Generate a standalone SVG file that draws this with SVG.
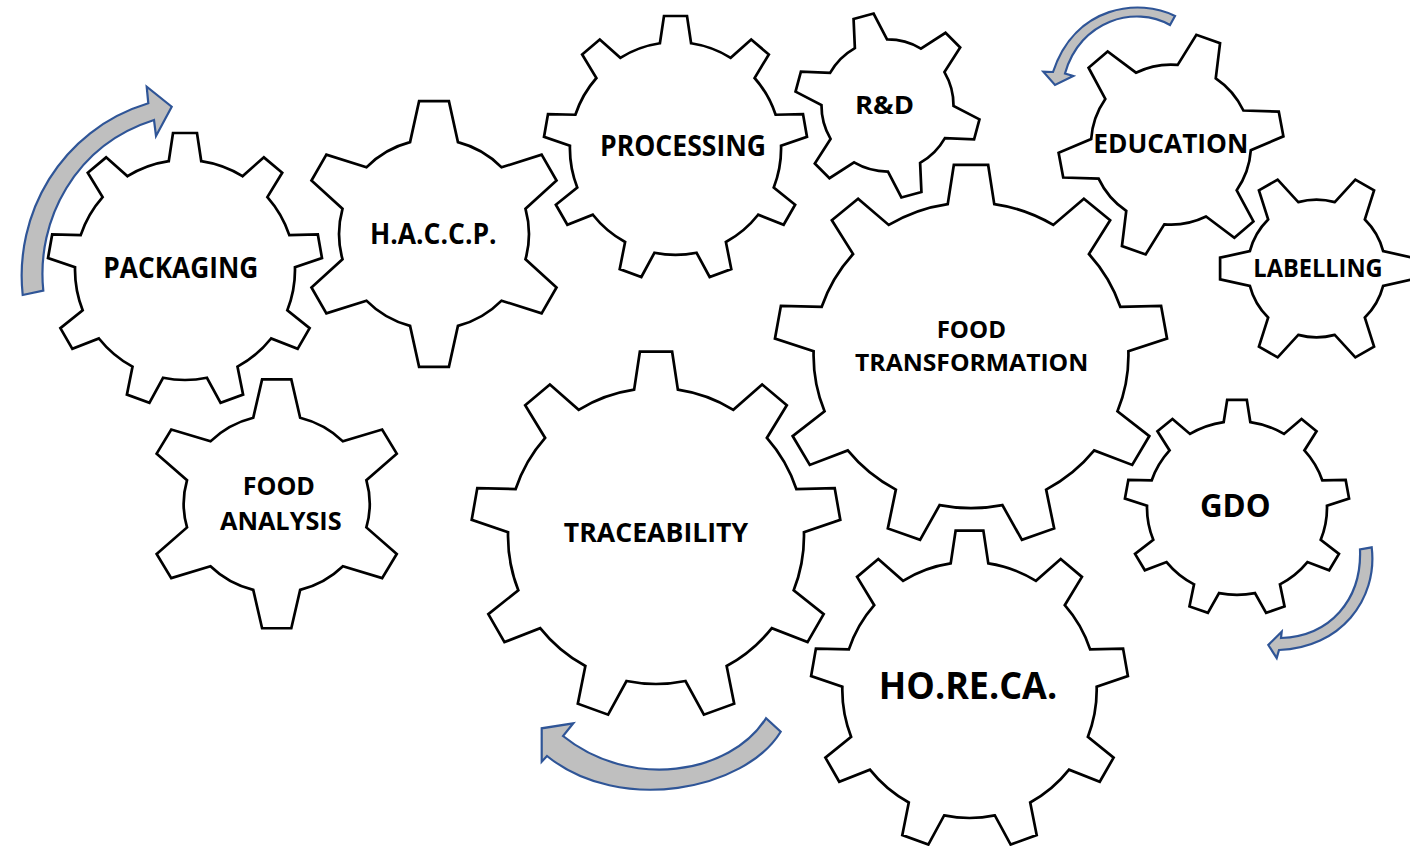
<svg xmlns="http://www.w3.org/2000/svg" xmlns:xlink="http://www.w3.org/1999/xlink" width="1410" height="846" viewBox="0 0 1410 846">
<style>
.t{font-family:"Open Sans","Liberation Sans",sans-serif;font-weight:700;fill:#000;text-anchor:middle}
.arrow{fill:#BFBFBF;stroke:#2F5597;stroke-width:2.2;stroke-linejoin:miter}
</style>
<defs>
<path id="g9" fill="#fff" stroke="#000" stroke-width="2.7" stroke-linejoin="miter" vector-effect="non-scaling-stroke" d="M -11.82,-79.12 L -8.72,-99.62 L 8.72,-99.62 L 11.82,-79.12 A 80 80 0 0 1 41.80,-68.21 L 57.36,-81.92 L 70.71,-70.71 L 59.92,-53.01 A 80 80 0 0 1 75.86,-25.38 L 96.59,-25.88 L 99.62,-8.72 L 79.97,-2.09 A 80 80 0 0 1 74.43,29.32 L 90.63,42.26 L 81.92,57.36 L 62.61,49.80 A 80 80 0 0 1 38.18,70.30 L 42.26,90.63 L 25.88,96.59 L 15.95,78.39 A 80 80 0 0 1 -15.95,78.39 L -25.88,96.59 L -42.26,90.63 L -38.18,70.30 A 80 80 0 0 1 -62.61,49.80 L -81.92,57.36 L -90.63,42.26 L -74.43,29.32 A 80 80 0 0 1 -79.97,-2.09 L -99.62,-8.72 L -96.59,-25.88 L -75.86,-25.38 A 80 80 0 0 1 -59.92,-53.01 L -70.71,-70.71 L -57.36,-81.92 L -41.80,-68.21 A 80 80 0 0 1 -11.82,-79.12 Z"/>
<path id="g6" fill="#fff" stroke="#000" stroke-width="2.7" stroke-linejoin="miter" vector-effect="non-scaling-stroke" d="M -17.9,-68.71 L -11.15,-99.38 L 11.15,-99.38 L 17.9,-68.71 A 71 71 0 0 1 50.55,-49.86 L 80.49,-59.34 L 91.64,-40.03 L 68.45,-18.86 A 71 71 0 0 1 68.45,18.86 L 91.64,40.03 L 80.49,59.34 L 50.55,49.86 A 71 71 0 0 1 17.9,68.71 L 11.15,99.38 L -11.15,99.38 L -17.9,68.71 A 71 71 0 0 1 -50.55,49.86 L -80.49,59.34 L -91.64,40.03 L -68.45,18.86 A 71 71 0 0 1 -68.45,-18.86 L -91.64,-40.03 L -80.49,-59.34 L -50.55,-49.86 A 71 71 0 0 1 -17.9,-68.71 Z"/>
</defs>
<rect width="1410" height="846" fill="#fff"/>

<g id="node-packaging">
<use href="#g9" transform="translate(185,270) scale(1.375)"/>
<text class="t" x="180.8" y="278.3" font-size="28" textLength="155" lengthAdjust="spacingAndGlyphs">PACKAGING</text>
</g>
<g id="node-haccp">
<use href="#g6" transform="translate(434,234) scale(1.337)"/>
<text class="t" x="433.3" y="244" font-size="29" textLength="126.7" lengthAdjust="spacingAndGlyphs">H.A.C.C.P.</text>
</g>
<g id="node-processing">
<use href="#g9" transform="translate(675.5,148.5) scale(1.32,1.33)"/>
<text class="t" x="683" y="156" font-size="28" textLength="166" lengthAdjust="spacingAndGlyphs">PROCESSING</text>
</g>
<g id="node-rd">
<use href="#g6" transform="translate(887.5,105.5) rotate(-15) scale(0.93)"/>
<text class="t" x="884.5" y="114" font-size="25" textLength="59" lengthAdjust="spacingAndGlyphs">R&amp;D</text>
</g>
<g id="node-education">
<use href="#g6" transform="translate(1171,144.6) rotate(19.4) scale(1.127)"/>
<text class="t" x="1170.8" y="152.7" font-size="27" textLength="155" lengthAdjust="spacingAndGlyphs">EDUCATION</text>
</g>
<g id="node-labelling">
<use href="#g6" transform="translate(1316.5,268.5) rotate(30) scale(0.97)"/>
<text class="t" x="1318" y="276.7" font-size="24.3" textLength="129.4" lengthAdjust="spacingAndGlyphs">LABELLING</text>
</g>
<g id="node-food-transformation">
<use href="#g9" transform="translate(971,355.3) scale(1.968,1.911)"/>
<text class="t" x="971.3" y="338.3" font-size="23.4" textLength="69.3" lengthAdjust="spacingAndGlyphs">FOOD</text>
<text class="t" x="971.7" y="370.7" font-size="23.4" textLength="233.3" lengthAdjust="spacingAndGlyphs">TRANSFORMATION</text>
</g>
<g id="node-gdo">
<use href="#g9" transform="translate(1237,508) scale(1.125,1.086)"/>
<text class="t" x="1235.3" y="516.7" font-size="31.8" textLength="70.7" lengthAdjust="spacingAndGlyphs">GDO</text>
</g>
<g id="node-horeca">
<use href="#g9" transform="translate(969.5,690) scale(1.59,1.6)"/>
<text class="t" x="968" y="699" font-size="36.8" textLength="178.3" lengthAdjust="spacingAndGlyphs">HO.RE.CA.</text>
</g>
<g id="node-traceability">
<use href="#g9" transform="translate(656,536) scale(1.85)"/>
<text class="t" x="656" y="542.3" font-size="26.6" textLength="184.3" lengthAdjust="spacingAndGlyphs">TRACEABILITY</text>
</g>
<g id="node-food-analysis">
<use href="#g6" transform="translate(276.7,503.8) scale(1.31,1.2525)"/>
<text class="t" x="278.8" y="495" font-size="24.8" textLength="72.3" lengthAdjust="spacingAndGlyphs">FOOD</text>
<text class="t" x="280.8" y="530" font-size="25.7" textLength="121.7" lengthAdjust="spacingAndGlyphs">ANALYSIS</text>
</g>

<g id="connectors">
<path class="arrow" d="M 22.7,295 C 14,215 60,130 148.3,103.3 L 146.7,86.7 L 171.7,106.7 L 156,136 L 154,120 C 75,145 36,220 43.3,290.7 Z"/>
<path class="arrow" d="M 1175,16 C 1140,-2 1075,5 1053,72 L 1043.3,71.7 L 1055,85 L 1073.3,76 L 1065,73.5 C 1080,20 1135,5 1170,25 Z"/>
<path class="arrow" d="M 1371.7,547.3 C 1378,600 1340,648 1279,650 L 1276.7,658 L 1268.3,645 L 1281.7,631.7 L 1281,638 C 1330,636 1362,600 1360,549.3 Z"/>
<path class="arrow" d="M 780.7,731.7 C 745,790 620,815 547,756 L 541.7,761.7 L 541.7,728.3 L 573.3,723.3 L 563,736 C 630,790 730,775 766,718.3 Z"/>
</g>
</svg>
